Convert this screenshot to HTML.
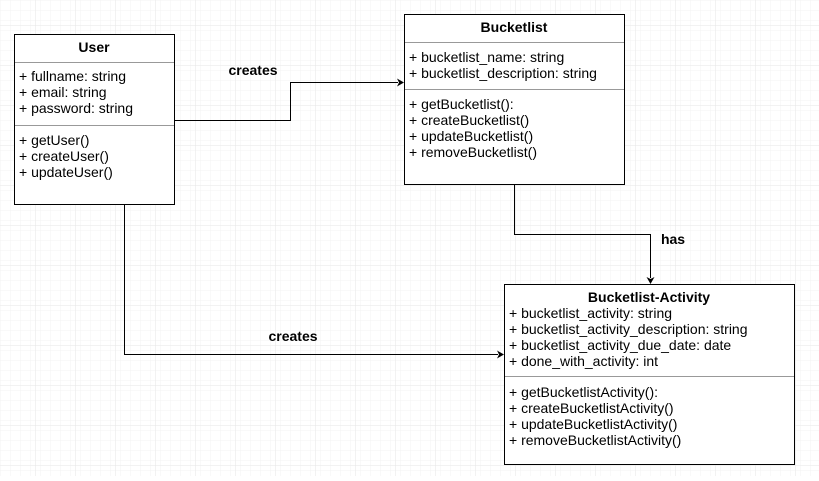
<!DOCTYPE html>
<html><head><meta charset="utf-8"><style>
html,body{margin:0;padding:0;background:#fff;}
svg text{font-family:"Liberation Sans",sans-serif;font-size:14px;fill:#000;}
</style></head><body>
<svg width="819" height="476" xmlns="http://www.w3.org/2000/svg">
<defs>
<pattern id="g1" width="10" height="10" patternUnits="userSpaceOnUse" x="5" y="5">
<path d="M10 0V10M0 10H10" fill="none" stroke="#f3f3f3" stroke-width="1"/></pattern>
<pattern id="g2" width="40" height="40" patternUnits="userSpaceOnUse" x="35.5" y="25.5">
<rect width="40" height="40" fill="url(#g1)"/>
<path d="M0 0V40M0 0H40" fill="none" stroke="#e6e6e6" stroke-width="1"/></pattern>
</defs>
<rect width="819" height="476" fill="url(#g2)"/>
<g fill="none" stroke="#000" stroke-width="1">
<polyline points="174.5,120.5 290.5,120.5 290.5,82.5 398,82.5"/>
<polyline points="514.5,184 514.5,234.5 650.5,234.5 650.5,278"/>
<polyline points="124.5,204 124.5,354.5 498,354.5"/>
</g>
<g fill="#000">
<polygon points="404,82.5 397,78.5 399,82.5 397,86.5"/>
<polygon points="650.5,284 646.5,277 650.5,279 654.5,277"/>
<polygon points="504,354.5 497,350.5 499,354.5 497,358.5"/>
</g>
<g fill="#fff" stroke="#000">
<rect x="14.5" y="34.5" width="160" height="170"/>
<rect x="404.5" y="14.5" width="220" height="170"/>
<rect x="504.5" y="284.5" width="290" height="180"/>
</g>
<g stroke="#999">
<line x1="15" y1="62.5" x2="174" y2="62.5"/>
<line x1="15" y1="125.5" x2="174" y2="125.5"/>
<line x1="405" y1="42.5" x2="624" y2="42.5"/>
<line x1="405" y1="89.5" x2="624" y2="89.5"/>
<line x1="505" y1="376.5" x2="794" y2="376.5"/>
</g>
<text x="94" y="52" text-anchor="middle" font-weight="bold">User</text>
<text x="19" y="81">+ fullname: string</text>
<text x="19" y="97">+ email: string</text>
<text x="19" y="113">+ password: string</text>
<text x="19" y="145">+ getUser()</text>
<text x="19" y="161">+ createUser()</text>
<text x="19" y="177">+ updateUser()</text>
<text x="514" y="32" text-anchor="middle" font-weight="bold">Bucketlist</text>
<text x="409" y="62">+ bucketlist_name: string</text>
<text x="409" y="78">+ bucketlist_description: string</text>
<text x="409" y="109">+ getBucketlist():</text>
<text x="409" y="125">+ createBucketlist()</text>
<text x="409" y="141">+ updateBucketlist()</text>
<text x="409" y="157">+ removeBucketlist()</text>
<text x="649" y="302" text-anchor="middle" font-weight="bold">Bucketlist-Activity</text>
<text x="509" y="318">+ bucketlist_activity: string</text>
<text x="509" y="334">+ bucketlist_activity_description: string</text>
<text x="509" y="350">+ bucketlist_activity_due_date: date</text>
<text x="509" y="366">+ done_with_activity: int</text>
<text x="509" y="397">+ getBucketlistActivity():</text>
<text x="509" y="413">+ createBucketlistActivity()</text>
<text x="509" y="429">+ updateBucketlistActivity()</text>
<text x="509" y="445">+ removeBucketlistActivity()</text>
<text x="253" y="75" text-anchor="middle" font-weight="bold">creates</text>
<text x="673" y="244" text-anchor="middle" font-weight="bold">has</text>
<text x="293" y="341" text-anchor="middle" font-weight="bold">creates</text>
</svg>
</body></html>
